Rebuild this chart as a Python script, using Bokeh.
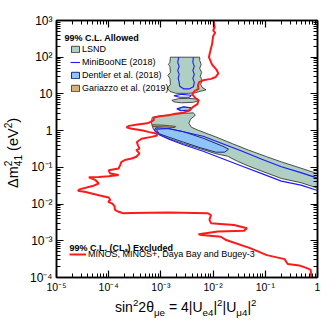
import math
from bokeh.plotting import figure
from bokeh.layouts import row, column
from bokeh.models import (Range1d, LogAxis, FixedTicker, CustomJSTickFormatter,
                          Label, Legend, LegendItem, Div)
from bokeh.embed import file_html
from bokeh.resources import INLINE

# ---------------- data (log10 values) ----------------
# MINOS, MINOS+, Daya Bay and Bugey-3 exclusion contour
minos_log_s2t = [-1.99, -1.97, -2.00, -1.96, -2.00, -2.02, -2.06, -2.08, -2.02, -1.94,
                 -1.90, -1.95, -2.04, -2.19, -2.27, -2.29, -2.28, -2.35, -2.40, -2.34,
                 -2.28, -2.30, -2.39, -2.45, -2.57, -2.72, -2.85, -3.03, -3.13, -3.14,
                 -3.26, -3.45, -3.61, -3.66, -3.56, -3.37, -3.22, -3.09, -3.07, -3.18,
                 -3.37, -3.46, -3.44, -3.41, -3.47, -3.41, -3.47, -3.56, -3.69, -3.76,
                 -3.78, -3.81, -4.00, -3.97, -3.81, -4.00, -4.19, -4.38, -4.25, -4.19,
                 -4.31, -4.56, -4.59, -4.44, -4.19, -4.00, -3.97, -4.01, -3.94, -3.89,
                 -3.88, -3.81, -3.72, -3.56, -2.85, -2.10, -2.04, -2.07, -2.04, -1.60,
                 -1.35, -1.41, -1.91, -2.28, -2.22, -1.85, -1.75, -1.29, -0.97, -0.63,
                 -0.60, -0.57, -0.35, -0.19, -0.13, -0.12]
minos_log_dm2 = [3.00, 2.81, 2.73, 2.67, 2.57, 2.35, 2.13, 2.00, 1.80, 1.67,
                 1.56, 1.46, 1.41, 1.37, 1.32, 1.23, 1.14, 1.08, 0.99, 0.89,
                 0.83, 0.72, 0.64, 0.55, 0.49, 0.46, 0.42, 0.39, 0.36, 0.28,
                 0.20, 0.17, 0.13, 0.09, 0.05, 0.01, -0.04, -0.08, -0.13, -0.17,
                 -0.22, -0.31, -0.40, -0.49, -0.53, -0.62, -0.71, -0.76, -0.80, -0.86,
                 -0.94, -1.03, -1.08, -1.17, -1.21, -1.24, -1.26, -1.27, -1.35, -1.44,
                 -1.51, -1.60, -1.64, -1.67, -1.76, -1.82, -1.89, -1.94, -1.98, -2.05,
                 -2.16, -2.21, -2.25, -2.24, -2.23, -2.25, -2.30, -2.43, -2.52, -2.57,
                 -2.66, -2.73, -2.75, -2.82, -2.84, -2.89, -2.98, -3.20, -3.39, -3.50,
                 -3.57, -3.63, -3.67, -3.75, -3.79, -4.00]

# LSND allowed regions
lsnd_band_log_s2t = [-3.165, -2.978, -2.753, -2.528, -2.378, -2.341, -2.434, -2.463, -2.416, -2.285,
                     -1.948, -1.629, -1.316, -0.974, -0.693, -0.318, 0.0,
                     0.0, -0.318, -0.693, -1.067, -1.316, -1.536, -1.723, -1.948, -2.247,
                     -2.566, -2.846, -3.034, -3.146, -3.184]
lsnd_band_log_dm2 = [0.364, 0.405, 0.446, 0.473, 0.486, 0.418, 0.310, 0.201, 0.092, 0.011,
                     -0.171, -0.356, -0.533, -0.709, -0.851, -1.022, -1.171,
                     -1.565, -1.416, -1.302, -1.103, -0.967, -0.832, -0.696, -0.628, -0.492,
                     -0.356, -0.220, -0.098, 0.038, 0.228]
lsnd_top_log_s2t = [-2.818, -2.828, -2.856, -2.828, -2.818, -2.865, -2.828, -2.818, -2.875, -2.828,
                    -2.715, -2.472, -2.341, -2.247, -2.135, -2.210, -2.238, -2.210, -2.247, -2.219,
                    -2.257, -2.228, -2.257, -2.257]
lsnd_top_log_dm2 = [2.0, 1.859, 1.804, 1.750, 1.587, 1.505, 1.424, 1.261, 1.152, 1.071,
                    1.016, 1.016, 1.030, 1.071, 1.111, 1.179, 1.261, 1.370, 1.478, 1.587,
                    1.696, 1.804, 1.913, 2.0]
lsnd_isl1_log_s2t = [-2.79, -2.659, -2.472, -2.303, -2.266, -2.378, -2.603, -2.753]
lsnd_isl1_log_dm2 = [0.826, 0.872, 0.880, 0.859, 0.821, 0.772, 0.758, 0.785]
lsnd_isl2_log_s2t = [-2.678, -2.566, -2.434, -2.453, -2.603]
lsnd_isl2_log_dm2 = [0.595, 0.641, 0.622, 0.560, 0.546]

# MiniBooNE (2018) contours
mb_main_log_s2t = [-3.09, -2.846, -2.566, -2.191, -1.816, -1.442, -1.067, -0.693, -0.318, 0.0,
                   0.0, -0.318, -0.693, -1.067, -1.442, -1.816, -2.191, -2.566, -2.846, -3.034, -3.127]
mb_main_log_dm2 = [0.079, 0.052, -0.030, -0.152, -0.356, -0.560, -0.777, -0.981, -1.144, -1.293,
                   -1.633, -1.484, -1.375, -1.171, -0.967, -0.764, -0.560, -0.383, -0.234, -0.111, 0.011]
mb_top_log_s2t = [-2.659, -2.678, -2.650, -2.678, -2.650, -2.669, -2.650, -2.640, -2.566, -2.453,
                  -2.378, -2.360, -2.388, -2.360, -2.388, -2.360, -2.388, -2.378]
mb_top_log_dm2 = [2.0, 1.859, 1.750, 1.641, 1.533, 1.424, 1.315, 1.207, 1.139, 1.139,
                  1.193, 1.315, 1.424, 1.533, 1.641, 1.750, 1.859, 2.0]
mb_isl1_log_s2t = [-2.753, -2.603, -2.416, -2.453, -2.640]
mb_isl1_log_dm2 = [0.948, 0.989, 0.962, 0.913, 0.908]
mb_isl2_log_s2t = [-2.697, -2.566, -2.416, -2.453, -2.622]
mb_isl2_log_dm2 = [0.595, 0.649, 0.622, 0.554, 0.541]

# Dentler et al. (2018)
dentler_log_s2t = [-3.09, -2.846, -2.566, -2.191, -1.816, -1.704, -1.779, -1.948, -2.247, -2.566, -2.846, -3.034]
dentler_log_dm2 = [0.038, 0.057, -0.030, -0.207, -0.424, -0.505, -0.587, -0.587, -0.465, -0.315, -0.179, -0.084]

# Gariazzo et al. (2019)
gariazzo_log_s2t = [-3.165, -2.94, -2.715, -2.734, -2.94, -3.165]
gariazzo_log_dm2 = [0.160, 0.147, 0.114, 0.084, 0.103, 0.111]

x_tick_exps = [-5, -4, -3, -2, -1, 0]
y_tick_exps = [-4, -3, -2, -1, 0, 1, 2, 3]

labels_allowed = ["LSND", "MiniBooNE (2018)", "Dentler et al. (2018)", "Gariazzo et al. (2019)"]
label_excluded = "MINOS, MINOS+, Daya Bay and Bugey-3"
title_allowed = "99% C.L. Allowed"
title_excluded = "99% C.L. (CL\u209b) Excluded"
x_title_html = ("sin<sup>2</sup>2\u03b8<sub>\u03bce</sub> = 4|U<sub>e4</sub>|<sup>2</sup>"
                "|U<sub>\u03bc4</sub>|<sup>2</sup>")
y_title_html = ("\u0394m<sup>2</sup><sub style='margin-left:-5.6px'>41</sub> (eV<sup>2</sup>)")


def lin(v):
    return [10.0 ** a for a in v]


def closed(v):
    return list(v) + [v[0]]


FONT = "Liberation Sans"
YT_W = 26
FIG_W, FIG_H = 305, 297
XT_H = 25

p = figure(width=FIG_W, height=FIG_H, x_axis_type="log", y_axis_type="log",
           x_range=Range1d(1e-5, 1.0), y_range=Range1d(1e-4, 1e3),
           output_backend="svg", toolbar_location=None,
           min_border_left=24, min_border_right=14, min_border_top=20, min_border_bottom=20)
p.grid.visible = False
p.background_fill_color = "white"
p.border_fill_color = "white"
p.outline_line_color = "black"
p.outline_line_width = 1.5

x_ticker = FixedTicker(ticks=[10.0 ** e for e in x_tick_exps],
                       minor_ticks=[k * 10.0 ** d for d in range(-5, 0) for k in range(2, 10)])
y_ticker = FixedTicker(ticks=[10.0 ** e for e in y_tick_exps],
                       minor_ticks=[k * 10.0 ** d for d in range(-4, 3) for k in range(2, 10)])

fmt = CustomJSTickFormatter(code="""
const e = Math.round(Math.log10(tick));
const sup = {'-':'\u207b','0':'\u2070','1':'\u00b9','2':'\u00b2','3':'\u00b3','4':'\u2074',
             '5':'\u2075','6':'\u2076','7':'\u2077','8':'\u2078','9':'\u2079'};
if (e == 0) return '1';
if (e == 1) return '10';
return '10' + String(e).split('').map(c => sup[c]).join('');
""")
blank_fmt = CustomJSTickFormatter(code="return '';")


def style_axis(ax, ticker, formatter, label_size, standoff):
    ax.ticker = ticker
    ax.formatter = formatter
    ax.major_tick_in = 7
    ax.major_tick_out = 0
    ax.minor_tick_in = 4
    ax.minor_tick_out = 0
    ax.axis_line_width = 1.5
    ax.major_tick_line_width = 1.2
    ax.minor_tick_line_width = 1.0
    ax.major_label_text_font = FONT
    ax.major_label_text_font_size = label_size
    ax.major_label_standoff = standoff
    ax.major_label_text_color = "black"


style_axis(p.xaxis[0], x_ticker, fmt, "10.5px", 3)
style_axis(p.yaxis[0], y_ticker, fmt, "12px", 4)

top_ax = LogAxis()
style_axis(top_ax, x_ticker, blank_fmt, "10px", 0)
right_ax = LogAxis()
style_axis(right_ax, y_ticker, blank_fmt, "10px", 0)
p.add_layout(top_ax, "above")
p.add_layout(right_ax, "right")

# ---------------- glyphs ----------------
r_lsnd = p.patches(xs=[lin(lsnd_band_log_s2t), lin(lsnd_top_log_s2t), lin(lsnd_isl1_log_s2t), lin(lsnd_isl2_log_s2t)],
                   ys=[lin(lsnd_band_log_dm2), lin(lsnd_top_log_dm2), lin(lsnd_isl1_log_dm2), lin(lsnd_isl2_log_dm2)],
                   fill_color="#aecfc2", line_color="#3a3a3a", line_width=0.9)
r_gar = p.patch(lin(gariazzo_log_s2t), lin(gariazzo_log_dm2),
                fill_color="#d8b07a", line_color="#5a4a30", line_width=1.0)
r_den = p.patch(lin(dentler_log_s2t), lin(dentler_log_dm2),
                fill_color="#8fc4f7", line_color="#1c2a78", line_width=1.0)
r_mb = p.multi_line(xs=[lin(closed(mb_main_log_s2t)), lin(mb_top_log_s2t),
                        lin(closed(mb_isl1_log_s2t)), lin(closed(mb_isl2_log_s2t))],
                    ys=[lin(closed(mb_main_log_dm2)), lin(mb_top_log_dm2),
                        lin(closed(mb_isl1_log_dm2)), lin(closed(mb_isl2_log_dm2))],
                    line_color="#1a1aff", line_width=1.1)
r_minos = p.line(lin(minos_log_s2t), lin(minos_log_dm2), line_color="#ff1a1a", line_width=2.0)

# ---------------- legends ----------------
leg_top = Legend(items=[LegendItem(label=labels_allowed[0], renderers=[r_lsnd]),
                        LegendItem(label=labels_allowed[1], renderers=[r_mb]),
                        LegendItem(label=labels_allowed[2], renderers=[r_den]),
                        LegendItem(label=labels_allowed[3], renderers=[r_gar])],
                 location=(14, 182.5))
leg_bot = Legend(items=[LegendItem(label=label_excluded, renderers=[r_minos])],
                 location=(13, 16.5))
for lg, gw in ((leg_top, 10), (leg_bot, 17)):
    lg.background_fill_alpha = 0
    lg.border_line_color = None
    lg.label_text_font = FONT
    lg.label_text_font_size = "9px"
    lg.label_text_color = "black"
    lg.glyph_width = gw
    lg.glyph_height = 8
    lg.label_height = 13
    lg.spacing = 0
    lg.padding = 0
    lg.margin = 0
    lg.label_standoff = 2
    p.add_layout(lg, "center")

p.add_layout(Label(x=8, y=240, x_units="screen", y_units="screen", text=title_allowed,
                   text_font=FONT, text_font_size="9px", text_font_style="bold",
                   text_baseline="alphabetic", text_color="black"))
p.add_layout(Label(x=13, y=30, x_units="screen", y_units="screen", text=title_excluded,
                   text_font=FONT, text_font_size="9px", text_font_style="bold",
                   text_baseline="alphabetic", text_color="black"))

# ---------------- axis titles as HTML text ----------------
SUBSUP = "<style>sup,sub{font-size:70%;line-height:0;}</style>"
x_title = Div(width=YT_W + FIG_W, height=XT_H, margin=0,
              text=(SUBSUP + "<div style=\"margin-left:115px;padding-top:3px;font-family:'Liberation Sans';"
                    "font-size:14px;line-height:15px;white-space:nowrap;color:black\">"
                    + x_title_html + "</div>"))
y_title = Div(width=YT_W, height=FIG_H, margin=0,
              text=(SUBSUP + f"<div style=\"width:{FIG_H}px;height:18px;transform-origin:0 0;"
                    f"transform:translate(3px,{FIG_H}px) rotate(-90deg);"
                    "font-family:'Liberation Sans';font-size:14.5px;line-height:18px;"
                    "white-space:nowrap;color:black;padding-left:109px;padding-top:1px;"
                    "box-sizing:border-box\">"
                    + y_title_html + "</div>"))

layout = column(row(y_title, p, spacing=0), x_title, spacing=0)

open("out.html", "w").write(file_html(layout, INLINE))
